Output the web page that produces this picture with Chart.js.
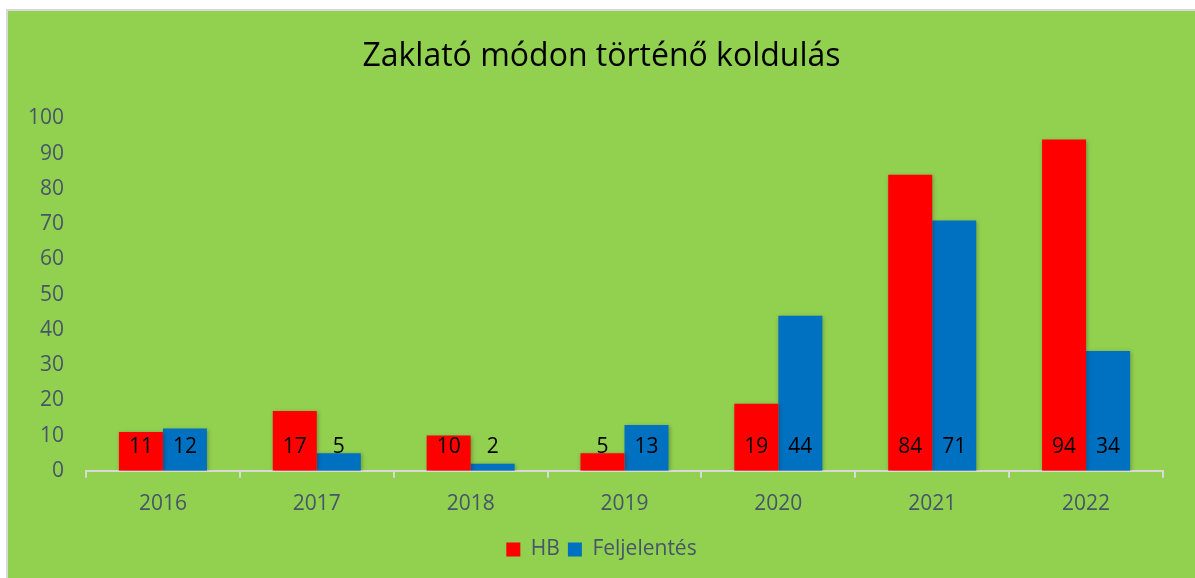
<!DOCTYPE html>
<html>
<head>
<meta charset="utf-8">
<script src="https://cdn.jsdelivr.net/npm/chart.js@4.4.1/dist/chart.umd.min.js"></script>
<style>
html,body{margin:0;padding:0;background:#ffffff;}
#wrap{position:absolute;left:6px;top:9px;width:1189px;height:569px;border-left:2px solid #d9d9d9;border-top:2px solid #d9d9d9;background:#92D050;}
canvas{display:block;}
</style>
</head>
<body>
<div id="wrap"><canvas id="c" width="1187" height="567"></canvas></div>
<script>
const categories = ['2016','2017','2018','2019','2020','2021','2022'];
const hbValues = [11,17,10,5,19,84,94];
const feljelentesValues = [12,5,2,13,44,71,34];
const seriesNames = ['HB','Feljelentés'];
const yTicks = [0,10,20,30,40,50,60,70,80,90,100];
const titleText = 'Zaklató módon történő koldulás';

const FONT = "'Open Sans', 'Noto Sans', sans-serif";
const TXT = '#475569';

const shadowPlugin = {
  id: 'barShadow',
  beforeDatasetDraw(chart){ const c = chart.ctx; c.save(); c.shadowColor='rgba(0,0,0,0.28)'; c.shadowBlur=4; c.shadowOffsetX=1; c.shadowOffsetY=1; },
  afterDatasetDraw(chart){ chart.ctx.restore(); }
};
const labelPlugin = {
  id: 'baseLabels',
  afterDatasetsDraw(chart){
    const c = chart.ctx; const y0 = chart.scales.y.getPixelForValue(0);
    c.save();
    c.font = '21px ' + FONT; c.fillStyle = '#000'; c.textAlign='center'; c.textBaseline='middle';
    chart.data.datasets.forEach((ds,i)=>{
      chart.getDatasetMeta(i).data.forEach((el,j)=>{
        c.fillText(String(ds.data[j]), el.x, y0 - 24);
      });
    });
    c.restore();
  }
};

new Chart(document.getElementById('c'), {
  type: 'bar',
  data: {
    labels: categories,
    datasets: [
      { label: seriesNames[0], data: hbValues, backgroundColor: '#FF0000', categoryPercentage: 0.572, barPercentage: 1.0 },
      { label: seriesNames[1], data: feljelentesValues, backgroundColor: '#0070C0', categoryPercentage: 0.572, barPercentage: 1.0 }
    ]
  },
  options: {
    responsive: false,
    animation: false,
    layout: { padding: { left: 0, right: 0, top: 0, bottom: 8 } },
    plugins: {
      title: { display: true, text: titleText, color: '#000', font: { family: FONT, size: 32, weight: 'normal' }, padding: { top: 27, bottom: 42 } },
      legend: { position: 'bottom', labels: { color: TXT, font: { family: FONT, size: 21 }, boxWidth: 14, boxHeight: 14, padding: 8 } },
      tooltip: { enabled: false }
    },
    scales: {
      x: {
        grid: { display: true, drawOnChartArea: false, drawTicks: true, tickLength: 7, color: '#d9d9d9', lineWidth: 2, offset: true },
        border: { display: true, color: '#d9d9d9', width: 2 },
        ticks: { color: TXT, font: { family: FONT, size: 21 }, padding: 14 }
      },
      y: {
        min: 0, max: 100,
        afterFit(s){ s.width = 78; },
        afterBuildTicks(s){ s.ticks = yTicks.map(v=>({value:v})); },
        grid: { display: false, drawTicks: false },
        border: { display: false },
        ticks: { color: TXT, font: { family: FONT, size: 21 }, padding: 22 }
      },
      yRight: {
        position: 'right', min: 0, max: 100,
        afterFit(s){ s.width = 32; },
        grid: { display: false, drawTicks: false },
        border: { display: false },
        ticks: { display: false }
      }
    }
  },
  plugins: [shadowPlugin, labelPlugin]
});
</script>
</body>
</html>
